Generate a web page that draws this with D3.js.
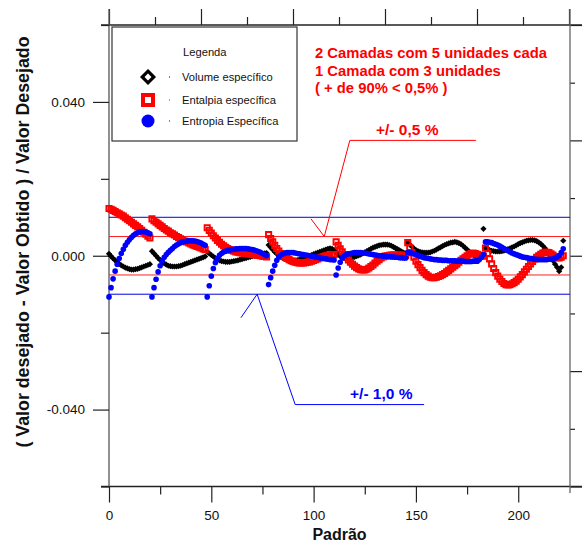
<!DOCTYPE html>
<html>
<head>
<meta charset="utf-8">
<script src="https://cdn.jsdelivr.net/npm/d3@7"></script>
<style>
  html, body { margin: 0; padding: 0; background: #fff; }
  svg { display: block; font-family: "Liberation Sans", Arial, Helvetica, sans-serif; }
</style>
</head>
<body>
<svg id="chart" width="582" height="541"></svg>
<script>
// Relative deviation per pattern index (Padrão 0..222); each line is one block of patterns.
const volume = [
  0.0005, -0.0001, -0.0007, -0.0012, -0.0017, -0.0021, -0.0025, -0.0028, -0.0031, -0.0033, -0.0035, -0.0036, -0.0036, -0.0035, -0.0034, -0.0032, -0.0030, -0.0028, -0.0026, -0.0024, -0.0022,
  0.0012, 0.0006, 0.0000, -0.0006, -0.0011, -0.0016, -0.0020, -0.0023, -0.0026, -0.0027, -0.0028, -0.0028, -0.0028, -0.0027, -0.0026, -0.0024, -0.0022, -0.0020, -0.0018, -0.0016, -0.0014, -0.0012, -0.0010, -0.0008, -0.0006, -0.0004, -0.0002,
  0.0010, 0.0006, 0.0002, -0.0002, -0.0006, -0.0009, -0.0012, -0.0014, -0.0015, -0.0016, -0.0016, -0.0016, -0.0015, -0.0014, -0.0013, -0.0012, -0.0010, -0.0009, -0.0007, -0.0006, -0.0004, -0.0003, -0.0001, 0.0000, 0.0002, 0.0003, 0.0004, 0.0005, 0.0006, 0.0007,
  0.0028, 0.0022, 0.0016, 0.0010, 0.0005, 0.0001, -0.0003, -0.0006, -0.0008, -0.0010, -0.0011, -0.0012, -0.0012, -0.0012, -0.0011, -0.0010, -0.0008, -0.0006, -0.0004, -0.0002, 0.0000, 0.0002, 0.0004, 0.0006, 0.0008, 0.0010, 0.0012, 0.0014, 0.0016, 0.0018, 0.0019, 0.0018, 0.0015,
  0.0008, 0.0003, -0.0001, -0.0004, -0.0006, -0.0007, -0.0007, -0.0006, -0.0005, -0.0003, -0.0001, 0.0001, 0.0003, 0.0006, 0.0009, 0.0012, 0.0015, 0.0018, 0.0021, 0.0023, 0.0025, 0.0027, 0.0028, 0.0029, 0.0029, 0.0029, 0.0028, 0.0026, 0.0023, 0.0020, 0.0017, 0.0014, 0.0011, 0.0008, 0.0006,
  0.0034, 0.0029, 0.0024, 0.0019, 0.0015, 0.0012, 0.0010, 0.0009, 0.0008, 0.0008, 0.0008, 0.0009, 0.0011, 0.0013, 0.0016, 0.0019, 0.0022, 0.0025, 0.0028, 0.0030, 0.0032, 0.0034, 0.0035, 0.0036, 0.0035, 0.0033, 0.0030, 0.0026, 0.0021, 0.0016, 0.0011, 0.0006, 0.0002, -0.0001, -0.0003, -0.0004, -0.0004, 0.0070,
  0.0020, 0.0017, 0.0015, 0.0013, 0.0012, 0.0011, 0.0011, 0.0011, 0.0012, 0.0013, 0.0015, 0.0017, 0.0019, 0.0022, 0.0024, 0.0027, 0.0030, 0.0033, 0.0035, 0.0037, 0.0039, 0.0040, 0.0041, 0.0041, 0.0040, 0.0038, 0.0035, 0.0031, 0.0026, 0.0020, 0.0013, 0.0005, -0.0004, -0.0013, -0.0022, -0.0030, -0.0040, -0.0030, 0.0039
];

const entalpia = [
  0.0123, 0.0121, 0.0118, 0.0115, 0.0112, 0.0109, 0.0106, 0.0103, 0.0099, 0.0095, 0.0091, 0.0087, 0.0083, 0.0079, 0.0075, 0.0071, 0.0066, 0.0061, 0.0056, 0.0051, 0.0046,
  0.0096, 0.0091, 0.0087, 0.0083, 0.0079, 0.0075, 0.0071, 0.0067, 0.0064, 0.0060, 0.0057, 0.0054, 0.0050, 0.0047, 0.0044, 0.0041, 0.0038, 0.0036, 0.0033, 0.0031, 0.0028, 0.0026, 0.0024, 0.0022, 0.0020, 0.0018, 0.0016,
  0.0073, 0.0066, 0.0059, 0.0052, 0.0046, 0.0040, 0.0035, 0.0030, 0.0026, 0.0022, 0.0019, 0.0016, 0.0014, 0.0012, 0.0010, 0.0009, 0.0008, 0.0007, 0.0006, 0.0006, 0.0005, 0.0005, 0.0004, 0.0003, 0.0002, 0.0001, 0.0000, -0.0001, -0.0002, -0.0003,
  0.0055, 0.0045, 0.0036, 0.0027, 0.0019, 0.0012, 0.0006, 0.0001, -0.0003, -0.0007, -0.0010, -0.0013, -0.0015, -0.0017, -0.0018, -0.0019, -0.0019, -0.0019, -0.0018, -0.0017, -0.0016, -0.0014, -0.0012, -0.0010, -0.0008, -0.0006, -0.0004, -0.0002, 0.0000, 0.0001, 0.0002, 0.0003, 0.0003,
  0.0036, 0.0027, 0.0018, 0.0010, 0.0003, -0.0004, -0.0011, -0.0017, -0.0022, -0.0027, -0.0031, -0.0034, -0.0036, -0.0037, -0.0037, -0.0035, -0.0032, -0.0028, -0.0024, -0.0019, -0.0014, -0.0010, -0.0006, -0.0003, -0.0001, 0.0000, 0.0001, 0.0002, 0.0002, 0.0002, 0.0002, 0.0002, 0.0001, 0.0001, 0.0000,
  0.0034, 0.0021, 0.0008, -0.0004, -0.0014, -0.0023, -0.0031, -0.0038, -0.0044, -0.0049, -0.0053, -0.0056, -0.0057, -0.0057, -0.0056, -0.0054, -0.0052, -0.0049, -0.0046, -0.0042, -0.0038, -0.0034, -0.0030, -0.0026, -0.0022, -0.0017, -0.0012, -0.0008, -0.0004, 0.0000, 0.0004, 0.0006, 0.0007, 0.0006, 0.0004, 0.0002, 0.0000, -0.0001,
  0.0020, 0.0006, -0.0008, -0.0021, -0.0033, -0.0044, -0.0053, -0.0061, -0.0067, -0.0072, -0.0075, -0.0076, -0.0075, -0.0073, -0.0070, -0.0066, -0.0061, -0.0055, -0.0049, -0.0042, -0.0035, -0.0028, -0.0021, -0.0015, -0.0009, -0.0004, 0.0000, 0.0004, 0.0007, 0.0009, 0.0009, 0.0008, 0.0005, 0.0002, -0.0002, -0.0005, -0.0006, -0.0004, 0.0000
];

const entropia = [
  -0.0107, -0.0083, -0.0060, -0.0040, -0.0022, -0.0007, 0.0006, 0.0017, 0.0027, 0.0035, 0.0042, 0.0048, 0.0053, 0.0057, 0.0060, 0.0062, 0.0063, 0.0063, 0.0062, 0.0060, 0.0057,
  -0.0107, -0.0083, -0.0061, -0.0042, -0.0026, -0.0013, -0.0004, 0.0003, 0.0009, 0.0014, 0.0019, 0.0024, 0.0028, 0.0031, 0.0034, 0.0036, 0.0037, 0.0038, 0.0039, 0.0039, 0.0039, 0.0038, 0.0037, 0.0035, 0.0033, 0.0030, 0.0027,
  -0.0107, -0.0078, -0.0053, -0.0033, -0.0018, -0.0007, 0.0001, 0.0006, 0.0010, 0.0012, 0.0014, 0.0015, 0.0016, 0.0017, 0.0018, 0.0018, 0.0019, 0.0019, 0.0019, 0.0019, 0.0018, 0.0017, 0.0016, 0.0015, 0.0013, 0.0011, 0.0009, 0.0006, 0.0003, 0.0000,
  -0.0075, -0.0057, -0.0040, -0.0025, -0.0012, -0.0003, 0.0002, 0.0005, 0.0007, 0.0008, 0.0008, 0.0008, 0.0008, 0.0007, 0.0006, 0.0005, 0.0004, 0.0003, 0.0002, 0.0001, 0.0000, -0.0001, -0.0002, -0.0003, -0.0004, -0.0005, -0.0006, -0.0007, -0.0008, -0.0009, -0.0010, -0.0010, -0.0011,
  -0.0050, -0.0032, -0.0017, -0.0006, 0.0000, 0.0003, 0.0005, 0.0006, 0.0007, 0.0008, 0.0008, 0.0008, 0.0008, 0.0007, 0.0007, 0.0006, 0.0005, 0.0004, 0.0003, 0.0002, 0.0001, 0.0000, 0.0000, -0.0001, -0.0001, -0.0002, -0.0002, -0.0003, -0.0003, -0.0004, -0.0004, -0.0005, -0.0005, -0.0006, -0.0006,
  0.0008, 0.0008, 0.0007, 0.0005, 0.0003, 0.0001, -0.0001, -0.0003, -0.0005, -0.0006, -0.0007, -0.0008, -0.0009, -0.0010, -0.0010, -0.0011, -0.0011, -0.0012, -0.0012, -0.0012, -0.0013, -0.0013, -0.0013, -0.0013, -0.0014, -0.0014, -0.0014, -0.0014, -0.0015, -0.0015, -0.0015, -0.0015, -0.0014, -0.0014, -0.0014, -0.0010, -0.0004, 0.0003,
  0.0036, 0.0036, 0.0035, 0.0034, 0.0032, 0.0030, 0.0028, 0.0025, 0.0022, 0.0019, 0.0016, 0.0013, 0.0010, 0.0007, 0.0005, 0.0003, 0.0001, -0.0001, -0.0003, -0.0004, -0.0005, -0.0006, -0.0007, -0.0008, -0.0009, -0.0009, -0.0010, -0.0010, -0.0010, -0.0010, -0.0010, -0.0009, -0.0009, -0.0008, -0.0006, -0.0003, 0.0000, 0.0008, 0.0018
];

const xTicksMajor = [0, 50, 100, 150, 200];
const xTicksMinor = [25, 75, 125, 175];
const yTicksMajor = [-0.04, 0, 0.04];
const yTicksMinor = [-0.06, -0.02, 0.02, 0.06];
const tolHalf = [0.005, -0.005];   // +/- 0,5 %
const tolFull = [0.01, -0.01];     // +/- 1,0 %

const legendItems = ["Volume específico", "Entalpia específica", "Entropia Específica"];
const noteLines = ["2 Camadas com 5 unidades cada", "1 Camada com 3 unidades", "( + de 90% < 0,5% )"];

const svg = d3.select("#chart");
const x = d3.scaleLinear().domain([0, 225.3]).range([109, 570]);
const y = d3.scaleLinear().domain([-0.06, 0.06]).range([486.5, 25]);
const xLeft = 109, xRight = 570, yTop = 25, yBottom = 486.5;

const axisColor = "#222";
const noDomain = g => g.select(".domain").remove();
const styleTicks = g => g.selectAll(".tick line").attr("stroke", axisColor).attr("stroke-width", 1.2);

// Secondary (unlabelled) top and right axes
const topScale = d3.scaleLinear().domain([0, 10]).range([109, 569]);
svg.append("g").attr("transform", `translate(0,${yTop})`)
  .call(d3.axisTop(topScale).tickValues([0, 2, 4, 6, 8, 10]).tickSize(16).tickFormat(""))
  .call(noDomain).call(styleTicks);
svg.append("g").attr("transform", `translate(0,${yTop})`)
  .call(d3.axisTop(topScale).tickValues([1, 3, 5, 7, 9]).tickSize(8).tickFormat(""))
  .call(noDomain).call(styleTicks);
const rightScale = d3.scaleLinear().domain([0, 8]).range([yTop, yBottom]);
svg.append("g").attr("transform", `translate(${xRight},0)`)
  .call(d3.axisRight(rightScale).tickValues([0, 2, 4, 6, 8]).tickSize(12).tickFormat(""))
  .call(noDomain).call(styleTicks);
svg.append("g").attr("transform", `translate(${xRight},0)`)
  .call(d3.axisRight(rightScale).tickValues([1, 3, 5, 7]).tickSize(5).tickFormat(""))
  .call(noDomain).call(styleTicks);

// Frame lines
const frame = svg.append("g").attr("stroke-width", 1.3);
frame.append("line").attr("x1", 101).attr("x2", 582).attr("y1", yTop).attr("y2", yTop).attr("stroke", axisColor);
frame.append("line").attr("x1", 101).attr("x2", 582).attr("y1", yBottom).attr("y2", yBottom).attr("stroke", axisColor);
frame.append("line").attr("x1", xLeft).attr("x2", xLeft).attr("y1", 9).attr("y2", yBottom).attr("stroke", "#555");
frame.append("line").attr("x1", xRight).attr("x2", xRight).attr("y1", 9).attr("y2", 493).attr("stroke", "#666");

// Left axis
svg.append("g").attr("transform", `translate(${xLeft},0)`)
  .call(d3.axisLeft(y).tickValues(yTicksMajor).tickSize(16).tickPadding(8).tickFormat(d => d.toFixed(3)))
  .call(noDomain).call(styleTicks)
  .call(g => g.selectAll("text").attr("font-size", 13.5).attr("fill", "#111")
    .attr("font-family", "'Liberation Sans', Arial, sans-serif"));
svg.append("g").attr("transform", `translate(${xLeft},0)`)
  .call(d3.axisLeft(y).tickValues(yTicksMinor).tickSize(8).tickFormat(""))
  .call(noDomain).call(styleTicks);

// Bottom axis
svg.append("g").attr("transform", `translate(0,${yBottom})`)
  .call(d3.axisBottom(x).tickValues(xTicksMajor).tickSize(16).tickPadding(8).tickFormat(d3.format("d")))
  .call(noDomain).call(styleTicks)
  .call(g => g.selectAll("text").attr("font-size", 13.5).attr("fill", "#111")
    .attr("font-family", "'Liberation Sans', Arial, sans-serif"));
svg.append("g").attr("transform", `translate(0,${yBottom})`)
  .call(d3.axisBottom(x).tickValues(xTicksMinor).tickSize(8).tickFormat(""))
  .call(noDomain).call(styleTicks);

// Axis titles
svg.append("text").attr("x", (xLeft + xRight) / 2).attr("y", 539.5)
  .attr("text-anchor", "middle").attr("font-size", 16).attr("font-weight", "bold").attr("fill", "#111")
  .text("Padrão");
svg.append("text").attr("transform", `translate(29,242) rotate(-90)`)
  .attr("text-anchor", "middle").attr("font-size", 17.8).attr("font-weight", "bold").attr("fill", "#111")
  .text("( Valor desejado - Valor Obtido ) / Valor Desejado");

// Tolerance bands
const bands = svg.append("g");
bands.selectAll("line.half").data(tolHalf).join("line").attr("class", "half")
  .attr("x1", xLeft).attr("x2", xRight).attr("y1", d => y(d)).attr("y2", d => y(d))
  .attr("stroke", "#ff2020").attr("stroke-width", 1);
bands.selectAll("line.full").data(tolFull).join("line").attr("class", "full")
  .attr("x1", xLeft).attr("x2", xRight).attr("y1", d => y(d)).attr("y2", d => y(d))
  .attr("stroke", "#0000e0").attr("stroke-width", 1);

// Series markers
const diamond = r => `M0,${-r}L${r},0L0,${r}L${-r},0Z`;
const square = s => `M${-s / 2},${-s / 2}h${s}v${s}h${-s}Z`;

svg.append("g").selectAll("path").data(volume).join("path")
  .attr("transform", (d, i) => `translate(${x(i)},${y(d)})`)
  .attr("d", diamond(3.1)).attr("fill", "#000");

svg.append("g").selectAll("path").data(entalpia).join("path")
  .attr("transform", (d, i) => `translate(${x(i)},${y(d)})`)
  .attr("d", square(5.2)).attr("fill", "none").attr("stroke", "#ff0000").attr("stroke-width", 1.9);

svg.append("g").selectAll("circle").data(entropia).join("circle")
  .attr("cx", (d, i) => x(i)).attr("cy", d => y(d)).attr("r", 2.8).attr("fill", "#0000ff");

// Callouts for the tolerance bands
const red = svg.append("g").attr("stroke", "#ff0000").attr("stroke-width", 1).attr("fill", "none");
red.append("path").attr("d", `M${x(179.3)},${y(0.030)}L${x(117.7)},${y(0.030)}L${x(105.2)},${y(0.005)}L${x(98.7)},${y(0.0096)}`);
svg.append("text").attr("x", x(130.5)).attr("y", y(0.0315)).attr("font-size", 15.5).attr("font-weight", "bold")
  .attr("fill", "#ff0000").text("+/- 0,5 %");

const blue = svg.append("g").attr("stroke", "#0000ff").attr("stroke-width", 1).attr("fill", "none");
blue.append("path").attr("d", `M${x(154)},${y(-0.0387)}L${x(91)},${y(-0.0387)}L${x(72.4)},${y(-0.01)}L${x(64.5)},${y(-0.0161)}`);
svg.append("text").attr("x", x(117.8)).attr("y", y(-0.0372)).attr("font-size", 15.5).attr("font-weight", "bold")
  .attr("fill", "#0000ff").text("+/- 1,0 %");

// Note block
svg.append("g").selectAll("text").data(noteLines).join("text")
  .attr("x", 315).attr("y", (d, i) => 58 + i * 17.5)
  .attr("font-size", 14.8).attr("font-weight", "bold").attr("fill", "#ff0000")
  .text(d => d);

// Legend
const legend = svg.append("g");
legend.append("rect").attr("x", 112).attr("y", 27).attr("width", 185).attr("height", 114)
  .attr("fill", "#fff").attr("stroke", "#333").attr("stroke-width", 1.2);
legend.append("text").attr("x", 183).attr("y", 56).attr("font-size", 11.2).attr("fill", "#111").text("Legenda");
const rowY = [77, 100, 121];
legend.append("path").attr("transform", `translate(148,${rowY[0]})`).attr("d", diamond(5.8))
  .attr("fill", "#fff").attr("stroke", "#000").attr("stroke-width", 3.2);
legend.append("path").attr("transform", `translate(148,${rowY[1]})`).attr("d", square(10))
  .attr("fill", "#fff").attr("stroke", "#ff0000").attr("stroke-width", 4);
legend.append("circle").attr("cx", 148).attr("cy", rowY[2]).attr("r", 6.5).attr("fill", "#0000ff");
const dotColors = ["#000", "#ff0000", "#0000ff"];
legend.selectAll("rect.dot").data(dotColors).join("rect").attr("class", "dot")
  .attr("x", 169).attr("y", (d, i) => rowY[i] - 0.5).attr("width", 1).attr("height", 1).attr("fill", d => d);
legend.selectAll("text.item").data(legendItems).join("text").attr("class", "item")
  .attr("x", 182).attr("y", (d, i) => rowY[i] + 4).attr("font-size", 11.2).attr("fill", "#111")
  .text(d => d);
</script>
</body>
</html>
